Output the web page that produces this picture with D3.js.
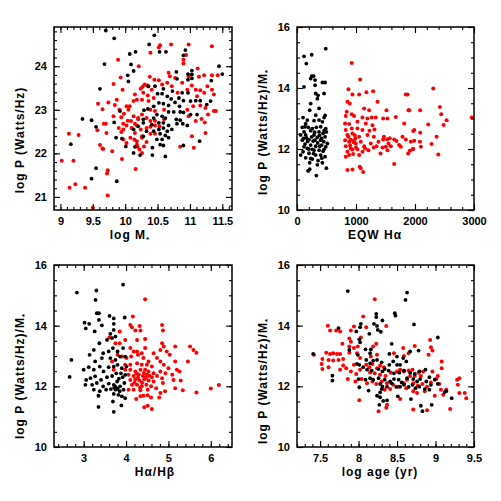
<!DOCTYPE html>
<html><head><meta charset="utf-8">
<script src="https://cdn.jsdelivr.net/npm/d3@7"></script>
<style>
html,body{margin:0;padding:0;background:#fff;}
text{font-family:"Liberation Sans",Arial,sans-serif;font-weight:bold;fill:#000;}
</style></head>
<body><svg id="c" width="501" height="501"></svg>
<script>
// ---------- data ----------
const p1XTicks = [9, 9.5, 10, 10.5, 11, 11.5];
const p1YTicks = [21, 22, 23, 24];
const p2XTicks = [0, 1000, 2000, 3000];
const p3XTicks = [3, 4, 5, 6];
const p4XTicks = [7.5, 8, 8.5, 9, 9.5];
const ratioYTicks = [10, 12, 14, 16];

const xTitles = ["log M", "EQW H\u03b1", "H\u03b1/H\u03b2", "log age (yr)"];
const yTitles = ["log P (Watts/Hz)", "log P (Watts/Hz)/M", "log P (Watts/Hz)/M", "log P (Watts/Hz)/M"];

const p1Black = [[9.70,24.82],[9.83,24.64],[10.45,24.71],[10.37,24.50],[9.68,24.05],[10.07,24.28],[10.16,24.33],[10.53,24.33],[10.63,24.33],[10.09,24.04],[10.13,23.89],[10.05,23.65],[10.04,23.79],[10.93,24.37],[10.90,24.25],[11.45,24.0],[11.50,23.82],[10.79,23.87],[10.97,23.82],[11.03,23.81],[11.03,23.72],[10.97,23.69],[11.03,23.90],[9.61,23.48],[11.33,23.67],[10.36,23.54],[10.46,23.54],[10.59,23.48],[10.73,23.43],[10.80,23.71],[10.88,23.39],[10.97,23.39],[10.50,23.37],[10.57,23.37],[10.65,23.31],[10.71,23.25],[10.83,23.27],[10.90,23.21],[11.01,23.20],[11.09,23.21],[11.16,23.21],[11.26,23.12],[11.32,23.20],[10.52,23.16],[10.59,23.14],[10.67,23.10],[10.77,23.17],[10.84,23.08],[10.44,23.08],[10.35,23.02],[10.29,22.99],[10.67,22.95],[10.75,22.95],[10.85,22.95],[10.90,22.94],[11.11,22.89],[11.01,22.89],[9.92,22.97],[10.49,22.89],[10.57,22.85],[10.62,22.81],[10.44,22.81],[10.28,22.78],[10.79,22.78],[10.85,22.76],[10.80,22.68],[10.89,22.68],[10.96,22.64],[10.52,22.70],[10.59,22.70],[10.67,22.64],[10.41,22.66],[9.83,22.71],[10.28,22.70],[10.59,22.58],[10.52,22.55],[10.65,22.51],[10.72,22.55],[10.44,22.51],[10.33,22.51],[10.20,22.62],[10.13,22.55],[9.86,22.36],[9.95,22.34],[10.54,22.45],[10.62,22.41],[10.49,22.32],[10.57,22.32],[10.67,22.36],[11.15,22.28],[10.28,22.39],[10.01,22.16],[10.15,22.15],[10.42,22.13],[10.54,22.20],[10.59,22.18],[10.23,21.96],[10.42,21.96],[10.62,21.93],[10.90,22.18],[9.34,22.79],[9.48,22.76],[9.55,22.61],[9.16,22.21],[9.55,21.66],[9.48,21.42],[9.87,21.36],[10.13,22.01]];
const p1Red = [[9.02,21.83],[9.13,22.45],[9.28,22.42],[9.20,21.83],[9.14,21.21],[9.23,21.29],[9.38,21.21],[9.50,20.75],[9.58,23.14],[9.57,22.53],[9.61,22.19],[9.66,22.10],[9.65,23.01],[9.67,22.68],[9.70,22.68],[9.73,21.61],[9.72,21.54],[9.73,21.03],[9.82,23.59],[9.84,23.11],[9.89,24.15],[9.93,23.74],[9.96,23.46],[9.94,22.83],[9.98,22.91],[9.97,22.68],[9.94,22.49],[9.95,21.87],[9.80,22.05],[9.87,23.23],[9.91,23.0],[10.05,23.0],[10.07,23.08],[10.04,22.75],[10.09,22.74],[10.10,22.58],[10.15,22.68],[10.20,22.81],[10.16,21.64],[10.21,24.0],[10.18,23.23],[10.26,23.23],[10.26,22.36],[10.29,22.16],[10.18,22.20],[10.19,22.15],[10.14,22.32],[10.54,24.48],[10.52,24.43],[10.71,24.50],[10.39,24.31],[10.98,24.50],[11.34,24.46],[10.90,24.06],[10.90,24.15],[10.94,24.26],[10.38,23.76],[10.45,23.69],[10.52,23.68],[10.67,23.85],[10.69,23.77],[10.77,23.73],[10.65,23.62],[10.30,23.58],[10.27,23.53],[10.34,23.56],[10.41,23.46],[10.24,23.48],[10.57,23.58],[10.72,23.54],[10.88,23.62],[10.98,23.77],[11.12,23.95],[11.03,23.56],[11.09,23.46],[11.14,23.76],[11.22,23.79],[11.34,23.79],[11.43,23.79],[11.27,23.54],[11.34,23.46],[11.16,23.45],[10.96,23.46],[10.81,23.39],[11.37,23.35],[11.22,23.39],[11.11,23.31],[10.15,23.35],[10.28,23.39],[10.35,23.33],[10.44,23.27],[10.13,23.20],[10.36,23.20],[10.02,23.08],[9.74,23.17],[10.39,23.0],[10.46,22.97],[10.60,23.0],[10.96,23.0],[11.05,23.08],[11.16,23.10],[11.24,23.04],[11.40,22.97],[11.28,22.89],[11.18,22.79],[11.23,22.71],[11.09,22.74],[10.98,22.85],[9.82,22.85],[10.13,22.85],[10.20,22.78],[10.26,22.89],[10.33,22.81],[10.39,22.74],[10.46,22.75],[10.60,22.78],[10.02,22.64],[10.18,22.64],[10.24,22.55],[10.33,22.58],[10.39,22.61],[10.46,22.64],[10.53,22.62],[9.97,22.55],[9.90,22.58],[10.15,22.47],[10.26,22.39],[10.08,22.36],[10.39,22.45],[10.46,22.45],[10.18,22.28],[10.33,22.26],[10.02,22.24],[9.97,22.32],[9.71,22.47],[11.24,22.47],[10.85,22.15],[11.06,22.13],[10.22,22.09],[9.65,22.11],[10.26,22.01],[11.03,22.39],[11.37,22.97]];

const p2Black = [[487,15.29],[119,15.04],[249,15.09],[158,14.80],[249,14.39],[232,14.31],[283,14.39],[306,14.26],[119,14.04],[476,14.18],[430,14.18],[306,14.09],[317,13.82],[357,13.76],[345,13.65],[459,13.82],[232,13.49],[215,13.27],[374,13.33],[476,13.10],[459,13.03],[430,12.89],[317,13.11],[289,12.93],[147,12.83],[136,12.73],[90,12.71],[192,12.71],[260,12.67],[328,12.71],[402,12.73],[487,12.67],[119,12.56],[232,12.60],[374,12.56],[442,12.51],[147,12.46],[289,12.46],[345,12.38],[476,12.40],[90,12.29],[204,12.31],[272,12.26],[402,12.29],[453,12.24],[136,12.16],[232,12.13],[317,12.09],[419,12.13],[487,12.07],[175,12.02],[260,11.99],[374,11.96],[442,11.93],[102,11.91],[204,11.86],[317,11.80],[402,11.80],[476,11.75],[147,11.71],[260,11.67],[357,11.62],[430,11.55],[498,11.37],[215,11.34],[345,11.48],[328,11.13],[62,12.46],[119,12.07],[306,12.29],[385,12.09],[459,11.99],[232,11.69],[419,12.35],[515,12.18],[175,12.95],[62,11.80],[289,11.96],[498,12.56],[215,11.55],[102,13.03],[374,12.95],[160,12.36],[380,12.45],[250,12.40],[300,12.55],[350,12.20],[200,12.0],[420,11.70],[280,11.85],[180,12.25],[460,12.60],[110,12.35],[187,11.28]];
const p2Red = [[928,14.82],[1070,14.28],[872,13.96],[940,13.79],[855,13.55],[894,13.49],[1177,13.86],[1290,13.89],[1053,13.79],[1364,13.55],[1845,13.79],[1873,13.79],[2088,13.27],[1138,13.33],[1222,13.27],[1517,13.27],[1890,13.27],[843,13.22],[928,13.14],[826,13.08],[968,13.08],[1109,13.03],[1194,13.0],[1268,13.03],[1336,13.03],[1460,13.0],[1534,13.0],[1675,13.05],[1817,12.84],[1987,12.62],[2088,12.53],[815,12.84],[883,12.82],[1024,12.89],[1166,12.84],[1279,12.78],[826,12.62],[928,12.67],[1024,12.67],[1109,12.62],[1228,12.60],[1313,12.64],[855,12.46],[940,12.51],[1053,12.40],[1194,12.46],[1302,12.40],[1472,12.40],[815,12.29],[883,12.24],[968,12.29],[996,12.18],[1081,12.24],[1138,12.09],[1251,12.18],[1381,12.24],[1460,12.31],[1573,12.35],[1647,12.31],[1551,12.18],[1590,12.09],[1788,12.40],[1845,12.31],[826,12.09],[911,12.02],[1024,11.99],[1109,11.91],[1302,12.05],[1506,12.07],[1534,11.96],[1760,12.07],[1930,12.24],[1987,12.27],[2083,12.24],[2100,12.07],[1958,11.99],[855,11.91],[951,11.84],[1053,11.80],[1211,11.96],[1347,12.09],[1449,12.05],[826,11.75],[883,11.80],[1155,12.02],[1647,11.51],[855,11.31],[940,11.33],[1081,11.37],[1121,11.25],[1064,11.42],[2309,13.98],[2422,13.38],[2445,13.14],[2485,12.79],[2536,12.94],[2281,12.16],[2366,12.40],[2394,11.82],[2960,13.03],[2224,12.80],[1970,12.59],[1970,12.0],[1885,11.85],[1913,11.94],[1686,12.26],[1731,12.13],[1528,12.32],[1415,11.85],[1902,13.27],[900,12.12],[960,12.22],[990,12.35],[870,12.40],[1000,12.05],[940,11.98],[980,12.45],[910,12.30]];

const p3Black = [[2.84,15.09],[3.93,15.35],[3.30,15.16],[3.28,14.85],[3.31,14.41],[3.36,14.41],[3.36,14.19],[3.02,14.10],[3.05,13.91],[3.13,14.06],[3.97,14.27],[3.61,14.32],[3.71,14.24],[3.71,14.06],[2.71,12.87],[2.67,12.31],[3.35,11.32],[3.71,11.16],[3.89,11.37],[3.26,13.81],[3.43,14.01],[3.63,13.73],[3.71,13.86],[3.55,13.53],[3.37,13.42],[3.67,13.59],[3.75,13.64],[3.24,13.20],[3.14,13.04],[3.46,13.09],[3.59,13.15],[3.69,13.26],[3.80,13.15],[3.93,13.26],[3.27,12.82],[3.43,12.93],[3.63,12.93],[3.75,12.87],[3.86,12.98],[3.98,12.98],[3.0,12.55],[3.12,12.63],[3.24,12.55],[3.38,12.65],[3.47,12.49],[3.59,12.63],[3.71,12.65],[3.80,12.71],[3.90,12.60],[4.01,12.65],[3.06,12.21],[3.16,12.27],[3.27,12.33],[3.41,12.21],[3.55,12.30],[3.67,12.34],[3.77,12.43],[3.88,12.43],[3.98,12.38],[3.04,12.05],[3.20,12.05],[3.31,12.11],[3.46,12.0],[3.59,12.09],[3.71,12.05],[3.79,12.16],[3.86,12.0],[3.96,12.11],[3.24,11.89],[3.38,11.84],[3.53,11.89],[3.64,11.91],[3.75,11.89],[3.85,11.84],[3.94,11.89],[3.35,11.69],[3.71,11.75],[3.82,11.72],[3.90,11.67],[3.69,11.50],[3.98,11.61],[3.75,11.99],[3.83,12.25],[3.92,12.30],[3.72,11.95],[3.80,11.92]];
const p3Red = [[4.45,14.87],[4.16,14.30],[4.10,14.02],[4.14,13.95],[4.32,13.99],[4.22,13.84],[4.34,13.84],[3.85,13.81],[4.85,14.02],[4.87,13.84],[4.45,13.56],[3.61,13.61],[3.75,13.42],[3.85,13.42],[3.98,13.53],[4.26,13.53],[4.10,13.26],[4.18,13.15],[4.26,13.15],[4.37,13.09],[4.45,13.26],[4.85,13.42],[4.89,13.31],[5.16,13.31],[5.51,13.31],[5.59,13.20],[5.66,13.11],[4.81,13.20],[4.96,13.15],[5.03,13.04],[4.65,13.09],[3.80,13.04],[3.90,12.98],[4.01,12.93],[4.12,12.98],[4.28,13.04],[4.41,12.93],[4.53,12.82],[4.73,12.93],[4.81,12.82],[5.16,12.82],[5.46,12.82],[3.67,12.82],[3.98,12.71],[4.10,12.71],[4.26,12.76],[4.37,12.71],[4.49,12.71],[4.61,12.65],[4.89,12.71],[5.0,12.60],[5.20,12.55],[5.26,12.49],[3.71,12.55],[3.98,12.55],[4.10,12.55],[4.22,12.49],[4.34,12.55],[4.45,12.55],[4.53,12.49],[4.65,12.43],[4.81,12.49],[4.93,12.43],[5.09,12.38],[4.06,12.38],[4.18,12.34],[4.30,12.38],[4.40,12.34],[4.49,12.38],[4.61,12.30],[4.73,12.34],[4.85,12.27],[4.10,12.21],[4.22,12.23],[4.32,12.19],[4.43,12.23],[4.53,12.19],[4.65,12.16],[4.87,12.11],[5.12,12.21],[5.29,12.19],[4.14,12.05],[4.26,12.05],[4.37,12.0],[4.48,12.05],[4.59,12.0],[4.71,11.94],[4.06,11.89],[4.18,11.89],[4.34,11.87],[4.51,11.89],[4.92,11.84],[5.16,11.94],[5.34,11.87],[5.66,11.80],[4.41,11.69],[4.51,11.71],[4.34,11.67],[4.59,11.63],[4.24,11.58],[4.78,11.63],[4.81,11.78],[4.51,11.36],[4.43,11.31],[4.61,11.25],[6.0,11.93],[6.19,12.04],[4.28,12.28],[4.38,12.12],[4.47,12.28],[4.20,12.12],[4.42,12.44],[4.33,11.95],[4.55,12.35],[4.25,12.42]];

const p4Black = [[7.86,15.14],[8.63,15.09],[8.61,14.85],[8.23,14.39],[8.23,14.28],[8.20,14.06],[8.24,13.99],[8.31,14.17],[8.47,14.41],[8.48,14.33],[8.25,13.86],[8.29,13.80],[8.14,13.73],[8.03,14.06],[8.02,13.95],[7.97,13.81],[7.74,13.92],[8.72,14.04],[9.03,13.61],[8.43,13.40],[8.01,13.55],[8.02,13.45],[8.09,13.22],[8.16,13.22],[8.15,13.09],[7.41,13.07],[7.88,13.20],[7.99,13.04],[8.40,13.07],[8.50,12.98],[8.58,12.93],[8.67,13.15],[8.78,13.18],[7.66,12.35],[7.66,12.19],[7.98,12.74],[8.01,12.71],[8.06,12.63],[8.10,12.87],[8.15,12.76],[8.19,12.85],[8.24,12.87],[8.30,12.79],[8.34,12.57],[8.40,12.71],[8.45,12.82],[8.50,12.71],[8.54,12.71],[8.62,12.82],[8.11,12.55],[8.17,12.52],[8.26,12.57],[8.31,12.49],[8.39,12.52],[8.46,12.43],[8.53,12.45],[8.59,12.52],[8.67,12.45],[8.73,12.41],[8.79,12.49],[8.87,12.55],[8.92,12.30],[8.0,12.24],[8.09,12.22],[8.15,12.27],[8.19,12.22],[8.26,12.27],[8.34,12.22],[8.41,12.16],[8.46,12.24],[8.52,12.22],[8.56,12.13],[8.63,12.27],[8.71,12.24],[8.76,12.16],[8.80,12.24],[8.88,12.16],[8.94,12.05],[8.99,12.22],[9.03,12.08],[8.28,12.08],[8.31,11.99],[8.37,11.99],[8.43,12.10],[8.49,11.98],[8.54,11.99],[8.59,12.05],[8.65,11.98],[8.70,12.05],[8.74,11.94],[8.79,11.99],[8.86,11.91],[8.92,11.89],[8.01,11.97],[8.13,11.86],[8.30,11.91],[8.28,11.80],[8.24,11.69],[8.28,11.64],[8.51,11.67],[8.68,11.58],[8.37,11.54],[8.32,11.52],[8.27,11.39],[8.81,11.36],[8.95,11.39],[8.83,11.18],[9.12,11.81],[9.14,11.84],[9.21,11.61]];
const p4Red = [[8.21,14.87],[8.06,14.30],[7.60,14.0],[7.63,13.84],[7.94,13.97],[7.71,13.84],[7.76,13.81],[7.90,13.84],[8.10,13.95],[8.36,13.99],[8.03,13.61],[7.88,13.58],[7.90,13.47],[7.79,13.40],[7.88,13.31],[7.94,13.26],[7.99,13.31],[8.19,13.31],[8.23,13.40],[8.73,13.33],[8.93,13.53],[8.94,13.29],[8.96,13.18],[8.91,13.04],[7.58,13.11],[7.63,13.07],[7.67,13.09],[7.72,13.07],[7.76,13.07],[7.53,12.90],[7.61,12.87],[7.67,12.85],[7.74,12.87],[7.80,12.90],[7.88,13.11],[7.98,13.09],[8.02,12.93],[8.16,12.98],[8.24,13.04],[8.58,13.26],[8.65,13.09],[8.46,13.09],[8.59,13.0],[7.52,12.74],[7.53,12.57],[7.61,12.63],[7.76,12.55],[7.80,12.69],[7.84,12.60],[7.94,12.71],[7.90,12.49],[7.97,12.41],[8.02,12.55],[8.10,12.71],[8.14,12.63],[8.18,12.74],[8.24,12.60],[8.28,12.69],[8.33,12.63],[8.15,12.46],[8.21,12.43],[8.28,12.38],[8.35,12.34],[8.42,12.45],[8.50,12.49],[8.54,12.55],[8.59,12.49],[8.65,12.52],[8.70,12.55],[8.78,12.45],[8.67,12.34],[8.73,12.34],[8.81,12.34],[8.84,12.49],[8.96,12.49],[9.03,12.34],[9.08,12.60],[9.08,12.82],[7.86,12.24],[7.96,12.16],[8.04,12.24],[8.11,12.10],[8.18,12.16],[8.23,12.08],[8.30,12.16],[8.37,12.10],[8.45,12.05],[8.52,11.99],[8.59,12.10],[8.63,12.22],[8.71,12.10],[8.77,12.02],[8.83,12.08],[8.89,11.99],[8.94,12.13],[9.01,12.24],[9.05,12.08],[9.07,11.89],[9.14,11.89],[8.34,11.89],[8.41,11.91],[8.62,11.94],[8.71,11.84],[8.76,11.78],[8.86,11.84],[8.99,11.69],[9.10,11.72],[8.01,11.54],[8.37,11.39],[8.54,11.58],[8.26,11.18],[8.36,11.29],[8.71,11.24],[8.89,11.21],[9.19,11.25],[9.28,12.22],[9.31,12.27],[9.29,12.05],[9.31,11.78],[9.38,11.78],[9.40,11.61],[7.42,13.04]];

// ---------- layout ----------
const panels = [
  {l:54, r:232, t:27, b:210, xd:[8.9,11.65], yd:[20.7,24.9], xt:p1XTicks, xm:0.1, yt:p1YTicks, ym:0.2,
   black:p1Black, red:p1Red, xTitle:0, yTitle:0, sub:[true,false], xtx:130, ytc:140},
  {l:297, r:474, t:27, b:210, xd:[0,3000], yd:[10,16], xt:p2XTicks, xm:200, yt:ratioYTicks, ym:0.5,
   black:p2Black, red:p2Red, xTitle:1, yTitle:1, sub:[false,true], xtx:375, ytc:132},
  {l:54, r:232, t:265, b:447, xd:[2.3,6.5], yd:[10,16], xt:p3XTicks, xm:0.2, yt:ratioYTicks, ym:0.5,
   black:p3Black, red:p3Red, xTitle:2, yTitle:2, sub:[false,true], xtx:155, ytc:376},
  {l:297, r:474, t:265, b:447, xd:[7.2,9.5], yd:[10,16], xt:p4XTicks, xm:0.1, yt:ratioYTicks, ym:0.5,
   black:p4Black, red:p4Red, xTitle:3, yTitle:3, sub:[false,true], xtx:380, ytc:381}
];

const svg = d3.select("#c");
svg.append("rect").attr("width",501).attr("height",501).attr("fill","#fff");

function minorVals(d, step){
  const out=[]; const s=Math.ceil(d[0]/step-1e-9);
  for(let i=s; i*step<=d[1]+1e-9; i++) out.push(+(i*step).toFixed(6));
  return out;
}

panels.forEach(p=>{
  const x = d3.scaleLinear().domain(p.xd).range([p.l,p.r]);
  const y = d3.scaleLinear().domain(p.yd).range([p.b,p.t]);
  const g = svg.append("g");
  const W = p.r-p.l, H = p.b-p.t;
  const fmt = d=>String(d);

  const cid = "clip"+p.l+"_"+p.t;
  svg.append("clipPath").attr("id",cid).append("rect")
    .attr("x",p.l).attr("y",p.t).attr("width",W).attr("height",H);
  const pts = g.append("g").attr("clip-path","url(#"+cid+")");
  pts.selectAll("circle.r").data(p.red).join("circle").attr("class","r")
    .attr("cx",d=>x(d[0])).attr("cy",d=>y(d[1])).attr("r",2.0).attr("fill","#ff0000");
  pts.selectAll("circle.k").data(p.black).join("circle").attr("class","k")
    .attr("cx",d=>x(d[0])).attr("cy",d=>y(d[1])).attr("r",1.9).attr("fill","#000");

  const styleAxis = sel=>{ sel.select(".domain").remove();
    sel.selectAll("line").attr("stroke","#000").attr("stroke-width",1.1);
    sel.selectAll("text").attr("font-size",11).attr("font-family","Liberation Sans, Arial, sans-serif").attr("font-weight","bold"); };

  g.append("g").attr("transform",`translate(0,${p.b})`)
    .call(d3.axisBottom(x).tickValues(p.xt).tickFormat(fmt).tickSizeInner(-6).tickSizeOuter(0).tickPadding(7.5)).call(styleAxis);
  g.append("g").attr("transform",`translate(0,${p.b})`)
    .call(d3.axisBottom(x).tickValues(minorVals(p.xd,p.xm)).tickFormat("").tickSizeInner(-3).tickSizeOuter(0)).call(styleAxis);
  g.append("g").attr("transform",`translate(0,${p.t})`)
    .call(d3.axisTop(x).tickValues(p.xt).tickFormat("").tickSizeInner(-6).tickSizeOuter(0)).call(styleAxis);
  g.append("g").attr("transform",`translate(0,${p.t})`)
    .call(d3.axisTop(x).tickValues(minorVals(p.xd,p.xm)).tickFormat("").tickSizeInner(-3).tickSizeOuter(0)).call(styleAxis);
  g.append("g").attr("transform",`translate(${p.l},0)`)
    .call(d3.axisLeft(y).tickValues(p.yt).tickFormat(fmt).tickSizeInner(-6).tickSizeOuter(0).tickPadding(7)).call(styleAxis);
  g.append("g").attr("transform",`translate(${p.l},0)`)
    .call(d3.axisLeft(y).tickValues(minorVals(p.yd,p.ym)).tickFormat("").tickSizeInner(-3).tickSizeOuter(0)).call(styleAxis);
  g.append("g").attr("transform",`translate(${p.r},0)`)
    .call(d3.axisRight(y).tickValues(p.yt).tickFormat("").tickSizeInner(-6).tickSizeOuter(0)).call(styleAxis);
  g.append("g").attr("transform",`translate(${p.r},0)`)
    .call(d3.axisRight(y).tickValues(minorVals(p.yd,p.ym)).tickFormat("").tickSizeInner(-3).tickSizeOuter(0)).call(styleAxis);

  g.append("rect").attr("x",p.l).attr("y",p.t).attr("width",W).attr("height",H)
    .attr("fill","none").attr("stroke","#000").attr("stroke-width",1.5);

  const xt = g.append("text").attr("x",p.xtx).attr("y",p.b+29).attr("text-anchor","middle")
    .attr("font-size",12).attr("letter-spacing",1).text(xTitles[p.xTitle]);
  if(p.sub[0]) xt.append("tspan").attr("dy",3).attr("font-size",8).text("*");
  const yt = g.append("text").attr("transform",`translate(${p.l-30},${p.ytc}) rotate(-90)`)
    .attr("text-anchor","middle").attr("font-size",12).attr("letter-spacing",1).text(yTitles[p.yTitle]);
  if(p.sub[1]) yt.append("tspan").attr("dy",3).attr("font-size",8).text("*");
});
</script></body></html>
